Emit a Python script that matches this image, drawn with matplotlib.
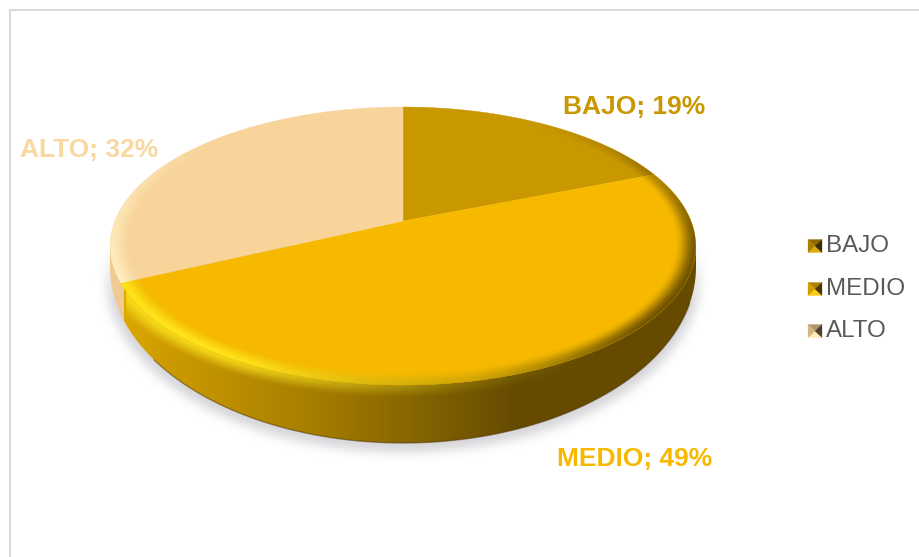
import numpy as np
import matplotlib
matplotlib.use("Agg")
import matplotlib.pyplot as plt
from matplotlib.patches import Polygon

categories = ["BAJO", "MEDIO", "ALTO"]
percents = [19, 49, 32]

face_colors = ["#C99700", "#F6B900", "#F8D49B"]
label_colors = ["#C99700", "#F6B900", "#F9D7A0"]
label_pos = [(634, 107), (635, 459), (89, 150)]

W, H = 919, 557

# pie top sits on a tilted disc, near side drawn larger
x0, y0 = 403.0, 221.0
a, b, k = 288.0, 134.5, 0.18
# lower rim of the side wall
bx, by, brx, bry = 403.0, 267.0, 293.0, 176.0


def project(theta):
    # theta in radians, clockwise from 12 o'clock
    u = np.sin(theta)
    v = -np.cos(theta)
    w = 1 - k * v
    return x0 + a * u / w, y0 + b * v / w


def hex_rgb(c):
    return np.array(matplotlib.colors.to_rgb(c))


plt.rcParams["font.family"] = ["Liberation Sans", "DejaVu Sans"]
fig = plt.figure(figsize=(W / 100, H / 100), dpi=100)
ax = fig.add_axes([0, 0, 1, 1])
ax.set_xlim(0, W)
ax.set_ylim(H, 0)
ax.axis("off")

# chart frame
ax.plot([9.5, 9.5], [H, 9.5], color="#D9D9D9", lw=1.5, zorder=1)
ax.plot([9.5, W], [9.5, 9.5], color="#D9D9D9", lw=1.5, zorder=1)

xx, yy = np.meshgrid(np.arange(W) + 0.5, np.arange(H) + 0.5)
extent = (0, W, H, 0)

# soft shadow under the pie, only around the lower half
mask = (((xx - 403) / 297) ** 2 + ((yy - 276) / 176) ** 2 <= 1).astype(float)
kernel = np.exp(-0.5 * (np.arange(-15, 16) / 5.0) ** 2)
kernel /= kernel.sum()
mask = np.apply_along_axis(lambda r: np.convolve(r, kernel, mode="same"), 0, mask)
mask = np.apply_along_axis(lambda r: np.convolve(r, kernel, mode="same"), 1, mask)
shadow = np.zeros((H, W, 4))
shadow[..., :3] = 0.62, 0.62, 0.66
shadow[..., 3] = mask * 0.42 * np.clip((yy - 240) / 60, 0, 1)
ax.imshow(shadow, extent=extent, aspect="auto", zorder=2, interpolation="nearest")
ax.set_xlim(0, W)
ax.set_ylim(H, 0)

# side wall
cum = np.cumsum([0] + percents) / sum(percents) * 2 * np.pi
edge_x = project(cum[2])[0] + 3
stops_x = [edge_x, 170, 240, 330, 420, 520, 700]
stops_c = [hex_rgb(c) for c in ["#DCA800", "#CC9A00", "#B98C00", "#A27A00", "#846300", "#654A00", "#654A00"]]
side = np.zeros((H, W, 3))
for i in range(3):
    side[..., i] = np.interp(xx, stops_x, [c[i] for c in stops_c])
side[xx < edge_x] = hex_rgb("#EFCB93")
t = np.linspace(0, np.pi, 300)
arc = np.column_stack([bx + brx * np.cos(t), by + bry * np.sin(t)])
wall_pts = np.vstack([arc, [[x0 - 293, 246], [x0 + 293, 246]]])
wall = Polygon(wall_pts, closed=True, fc="none", ec="none", zorder=3)
ax.add_patch(wall)
im = ax.imshow(side, extent=extent, aspect="auto", zorder=3, interpolation="bilinear")
im.set_clip_path(wall)
rim = arc[(arc[:, 0] > edge_x + 30) & (arc[:, 0] < 690)]
ax.plot(rim[:, 0], rim[:, 1], color="#4A3600", lw=1, alpha=0.5, zorder=3.5)

# top wedges
for i in range(len(percents)):
    th = np.linspace(cum[i], cum[i + 1], 160)
    px, py = project(th)
    pts = np.vstack([[x0, y0], np.column_stack([px, py])])
    ax.add_patch(Polygon(pts, closed=True, fc=face_colors[i], ec=face_colors[i], lw=0.3, zorder=4))

# bevel along the rim of the top, running a little way onto the wall
Y = yy - y0
v = Y / (b + k * Y)
u = (xx - x0) * (1 - k * v) / a
r = np.sqrt(u ** 2 + v ** 2)
ang = np.degrees(np.arctan2(u, -v)) % 360
ramp_in = np.clip((r - 0.93) / 0.07, 0, 1)
ramp_in = ramp_in * ramp_in * (3 - 2 * ramp_in)
ramp_out = np.clip((1.07 - r) / 0.07, 0, 1)
ramp_out = ramp_out * ramp_out * (3 - 2 * ramp_out)
light = np.clip(np.cos(np.radians(ang - 225)), 0, 1) ** 1.3
dark = np.clip(np.cos(np.radians(ang - 120)), 0, 1) ** 1.5
yellow = np.zeros((H, W, 3)) + hex_rgb("#FFE81E")
yellow[ang > np.degrees(cum[2])] = hex_rgb("#FFF2C4")
brown = hex_rgb("#5E4500")
mix = (dark / np.maximum(light + dark, 1e-6))[..., None]
bevel_rgb = yellow * (1 - mix) + brown * mix

bevel = np.dstack([bevel_rgb, ramp_in * np.maximum(light * 0.95, dark * 0.9)])
px, py = project(np.linspace(0, 2 * np.pi, 500))
top_clip = Polygon(np.column_stack([px, py]), closed=True, fc="none", ec="none", zorder=5)
ax.add_patch(top_clip)
im2 = ax.imshow(bevel, extent=extent, aspect="auto", zorder=5, interpolation="bilinear")
im2.set_clip_path(top_clip)

outer_alpha = (r >= 1) * ramp_out * light * 0.8 * (xx > edge_x + 2)
outer = np.dstack([bevel_rgb, outer_alpha])
im3 = ax.imshow(outer, extent=extent, aspect="auto", zorder=3.7, interpolation="bilinear")
im3.set_clip_path(wall)

# data labels
for i, name in enumerate(categories):
    ax.text(label_pos[i][0], label_pos[i][1], "%s; %d%%" % (name, percents[i]),
            color=label_colors[i], fontsize=19, fontweight="bold",
            ha="center", va="center", zorder=6)

# legend with bevelled keys
legend_y = [246, 289, 331]
for i, name in enumerate(categories):
    ly = legend_y[i]
    l, rt, tp, bt = 808.0, 822.0, ly - 6.5, ly + 6.5
    c = hex_rgb(face_colors[i])
    mid = ((l + rt) / 2, ly)
    shades = [c * 0.7, np.clip(c * 1.06 + 0.04, 0, 1), c * 0.85, c * 0.3]
    tris = [[(l, tp), (rt, tp), mid], [(l, bt), (rt, bt), mid], [(l, tp), (l, bt), mid], [(rt, tp), (rt, bt), mid]]
    for tri, sh in zip(tris, shades):
        ax.add_patch(Polygon(tri, closed=True, fc=sh, ec=sh, lw=0.2, zorder=6))
    ax.text(826, ly, name, color="#595959", fontsize=17.4, ha="left", va="center", zorder=6)

fig.savefig("out.png", dpi=100)
